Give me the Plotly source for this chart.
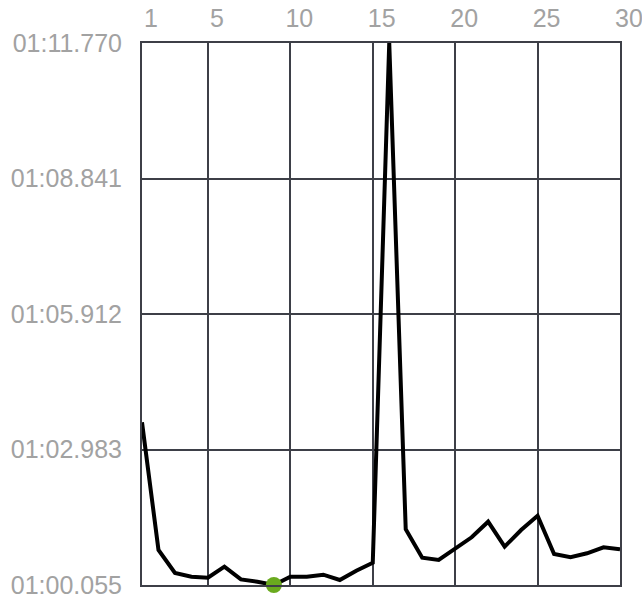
import plotly.graph_objects as go

laps = list(range(1, 31))
lap_times = [63.571, 60.811, 60.314, 60.235, 60.213, 60.451, 60.177, 60.127, 60.055, 60.235,
             60.235, 60.278, 60.163, 60.364, 60.537, 71.770, 61.259, 60.645, 60.595, 60.848,
             61.086, 61.423, 60.883, 61.244, 61.553, 60.725, 60.654, 60.740, 60.870, 60.826]
x_ticks = [1, 5, 10, 15, 20, 25, 30]
y_tick_values = [60.055, 62.983, 65.912, 68.841, 71.770]
y_tick_labels = ["01:00.055", "01:02.983", "01:05.912", "01:08.841", "01:11.770"]

best_i = lap_times.index(min(lap_times))

fig = go.Figure()
fig.add_trace(go.Scatter(x=laps, y=lap_times, mode="lines",
                         line=dict(color="#000000", width=4), cliponaxis=True,
                         showlegend=False, hoverinfo="skip"))
fig.add_trace(go.Scatter(x=[laps[best_i]], y=[lap_times[best_i]], mode="markers",
                         marker=dict(color="#6aaa1e", size=16), cliponaxis=False,
                         showlegend=False))

font = dict(family="Liberation Sans, Arial, sans-serif", size=25, color="#a2a2a2")
grid_col = "#3d3f47"
fig.update_layout(
    width=642, height=598,
    margin=dict(l=142, r=22, t=43, b=13),
    paper_bgcolor="white", plot_bgcolor="white",
    font=font,
    xaxis=dict(range=[1, 30], side="top", tickvals=x_ticks, ticks="",
               showgrid=True, gridcolor=grid_col, gridwidth=2,
               showline=True, linecolor=grid_col, linewidth=2, mirror=True,
               zeroline=False, ticklabelshift=9, ticklabelstandoff=4,
               ticklabeloverflow="allow", automargin=False, tickfont=font),
    yaxis=dict(range=[y_tick_values[0], y_tick_values[-1]], tickvals=y_tick_values,
               ticktext=y_tick_labels, ticks="",
               showgrid=True, gridcolor=grid_col, gridwidth=2,
               showline=True, linecolor=grid_col, linewidth=2, mirror=True,
               zeroline=False, ticklabelstandoff=13, ticklabeloverflow="allow",
               automargin=False, tickfont=font),
)
fig.write_html("out.html", config={"displayModeBar": False},
               post_script="document.body.style.margin='0';document.body.style.overflow='hidden';")
